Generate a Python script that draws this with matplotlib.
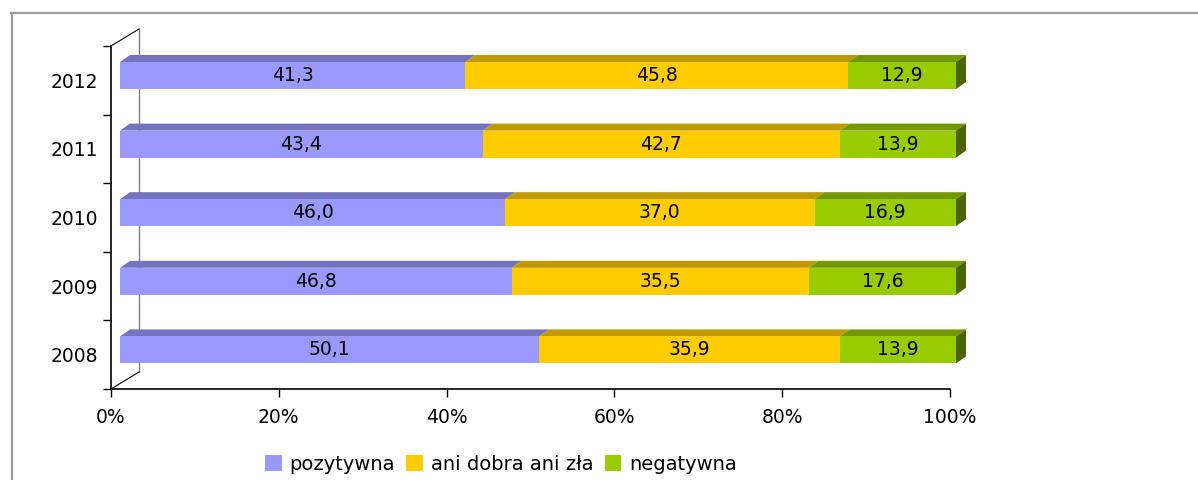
import matplotlib
matplotlib.use("Agg")
import matplotlib.pyplot as plt
from matplotlib.patches import Polygon, Patch
from matplotlib.lines import Line2D


#---DATA---
years = ["2008", "2009", "2010", "2011", "2012"]
pozytywna = [50.1, 46.8, 46.0, 43.4, 41.3]
ani_dobra = [35.9, 35.5, 37.0, 42.7, 45.8]
negatywna = [13.9, 17.6, 16.9, 13.9, 12.9]
series_names = ["pozytywna", "ani dobra ani zła", "negatywna"]
x_ticks = [0, 20, 40, 60, 80, 100]
x_tick_labels = ["0%", "20%", "40%", "60%", "80%", "100%"]

# front / top / side colours for each series
front_colors = ["#9999FF", "#FFCC00", "#99CC00"]
top_colors = ["#7373BF", "#BF9900", "#739900"]
side_colors = ["#5C5C99", "#997A00", "#4D6600"]


#---FIGURE---
plt.rcParams["font.family"] = "DejaVu Sans"
FS = 13.5
W, H = 1198, 480
fig = plt.figure(figsize=(W / 100, H / 100), dpi=100)

ax_left, ax_bottom, ax_w, ax_h = 111, 91, 839, 343
ax = fig.add_axes([ax_left / W, ax_bottom / H, ax_w / W, ax_h / H])
ax.set_xlim(0, 100)
ax.set_ylim(-0.5, len(years) - 0.5)

# pixel -> data helpers
px_x = 100 / ax_w
px_y = len(years) / ax_h

bar_h = 27 * px_y
front_dx = 9 * px_x
front_dy = 4.8 * px_y
depth_dx = 10 * px_x
depth_dy = 7 * px_y
bar_scale = 836 / 839

# back wall of the 3D frame
wall_dx = 28 * px_x
wall_dy = 17 * px_y
y_lo, y_hi = -0.5, len(years) - 0.5
ax.plot([wall_dx, wall_dx], [y_lo + wall_dy, y_hi + wall_dy], color="#808080",
        lw=1.0, clip_on=False, zorder=1)
ax.plot([0, wall_dx], [y_hi, y_hi + wall_dy], color="black", lw=0.8, clip_on=False, zorder=1)
ax.plot([0, wall_dx], [y_lo, y_lo + wall_dy], color="black", lw=0.8, clip_on=False, zorder=1)


#---BARS---
series = [pozytywna, ani_dobra, negatywna]
for i, year in enumerate(years):
    total = sum(s[i] for s in series)
    left = 0.0
    yc = i + front_dy
    yb, yt = yc - bar_h / 2, yc + bar_h / 2
    for k, s in enumerate(series):
        w = s[i] / total * 100 * bar_scale
        l = left + front_dx
        r = l + w
        ax.barh(yc, w, left=l, height=bar_h, color=front_colors[k], zorder=3,
                linewidth=0, clip_on=False)
        top = Polygon([(l, yt), (r, yt), (r + depth_dx, yt + depth_dy), (l + depth_dx, yt + depth_dy)],
                      closed=True, facecolor=top_colors[k], edgecolor="none", zorder=2.5,
                      clip_on=False)
        ax.add_patch(top)
        if k == len(series) - 1:
            side = Polygon([(r, yb), (r, yt), (r + depth_dx, yt + depth_dy), (r + depth_dx, yb + depth_dy)],
                           closed=True, facecolor=side_colors[k], edgecolor="none", zorder=2.5,
                           clip_on=False)
            ax.add_patch(side)
        ax.text(l + w / 2, yc, f"{s[i]:.1f}".replace(".", ","), ha="center", va="center",
                fontsize=FS, color="black", zorder=4)
        left += w


#---AXES STYLE---
for side in ["top", "right"]:
    ax.spines[side].set_visible(False)
for side in ["left", "bottom"]:
    ax.spines[side].set_linewidth(1.2)
    ax.spines[side].set_color("black")
    ax.spines[side].set_zorder(5)

ax.set_xticks(x_ticks)
ax.set_xticklabels(x_tick_labels, fontsize=FS)
ax.tick_params(axis="x", direction="out", length=6, width=1.0, pad=8)

ax.set_yticks([y + 0.5 for y in range(-1, len(years))])
ax.set_yticklabels([])
ax.set_yticks(range(len(years)), minor=True)
ax.set_yticklabels(years, minor=True, fontsize=FS)
ax.tick_params(axis="y", which="major", direction="out", length=6, width=1.0)
ax.tick_params(axis="y", which="minor", length=0, pad=9)


#---LEGEND---
handles = [Patch(facecolor=c, edgecolor="none") for c in front_colors]
fig.legend(handles, series_names, loc="center", bbox_to_anchor=(501 / W, 1 - 464 / H),
           ncol=3, frameon=False, fontsize=FS + 0.5, handlelength=0.85, handleheight=0.85,
           handletextpad=0.4, columnspacing=0.6)


#---OUTER BORDER---
fig.add_artist(Line2D([11 / W, 1], [1 - 13 / H, 1 - 13 / H], transform=fig.transFigure,
                      color="#999999", lw=1.6))
fig.add_artist(Line2D([12 / W, 12 / W], [0, 1 - 13 / H], transform=fig.transFigure,
                      color="#999999", lw=1.6))

fig.savefig("out.png", dpi=100)
